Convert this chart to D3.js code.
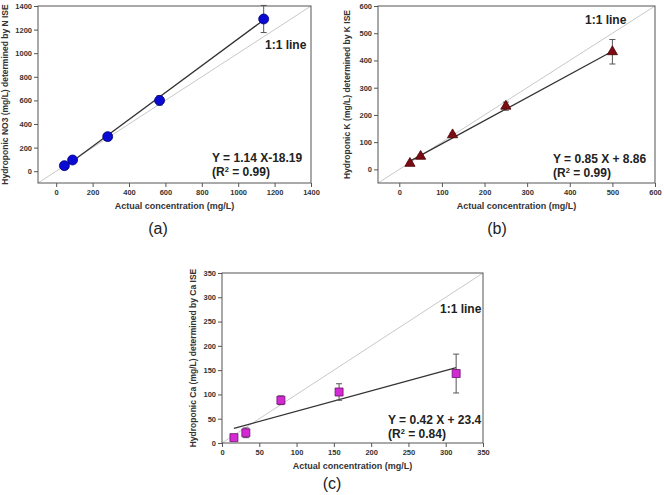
<!DOCTYPE html>
<html><head><meta charset="utf-8">
<script src="https://cdn.jsdelivr.net/npm/d3@7"></script>
<style>
body{margin:0;background:#fff;}
svg{font-family:"Liberation Sans",Arial,sans-serif;}
</style></head><body>
<svg id="c" width="664" height="495"></svg>
<script>
// Panel (a): NO3
const aX = [45, 90, 283, 568, 1140];
const aY = [47, 95, 293, 600, 1290];
const aErr = [8, 10, 12, 40, 115];
const aTicks = [0, 200, 400, 600, 800, 1000, 1200, 1400];
// Panel (b): K
const bX = [25, 50, 125, 250, 500];
const bY = [22, 48, 127, 232, 432];
const bErr = [4, 5, 6, 15, 45];
const bTicks = [0, 100, 200, 300, 400, 500, 600];
// Panel (c): Ca
const cX = [16, 32, 79, 157, 314];
const cY = [11, 21, 88, 105, 143];
const cErr = [3, 10, 9, 17, 40];
const cTicks = [0, 50, 100, 150, 200, 250, 300, 350];

const svg = d3.select("#c");

const panels = [
  {xs:aX, ys:aY, err:aErr, ticks:aTicks, dom:[-100,1400], slope:1.14, icpt:-18.19,
   box:[38,311,6,183], ylab:"Hydroponic NO3 (mg/L) determined by N ISE", ylabX:5,
   eq:"Y = 1.14 X-18.19", r2:"0.99", eqX:212, eqY:162, oneX:265, oneY:49,
   tag:"(a)", tagX:158, tagY:234, marker:"circle", size:78, fill:"#0a0ad2", stroke:"#00007a"},
  {xs:bX, ys:bY, err:bErr, ticks:bTicks, dom:[-50,600], slope:0.85, icpt:8.86,
   box:[378,655,6,183], ylab:"Hydroponic K (mg/L) determined by K ISE", ylabX:347,
   eq:"Y = 0.85 X + 8.86", r2:"0.99", eqX:553, eqY:163, oneX:585, oneY:24,
   tag:"(b)", tagX:497, tagY:234, marker:"triangle", size:45, fill:"#7a0c12", stroke:"#4a0005"},
  {xs:cX, ys:cY, err:cErr, ticks:cTicks, dom:[0,350], slope:0.42, icpt:23.4,
   box:[222,483,273,443], ylab:"Hydroponic Ca (mg/L) determined by Ca ISE", ylabX:193,
   eq:"Y = 0.42 X + 23.4", r2:"0.84", eqX:388, eqY:424, oneX:440, oneY:313,
   tag:"(c)", tagX:332, tagY:489, marker:"square", size:64, fill:"#d42ad4", stroke:"#6a106a"}
];

panels.forEach(p => {
  const [l, r, t, b] = p.box;
  const x = d3.scaleLinear().domain(p.dom).range([l, r]);
  const y = d3.scaleLinear().domain(p.dom).range([b, t]);
  const g = svg.append("g");

  // 1:1 line
  g.append("line").attr("x1", x(p.dom[0])).attr("y1", y(p.dom[0]))
    .attr("x2", x(p.dom[1])).attr("y2", y(p.dom[1]))
    .attr("stroke", "#c8c8c8").attr("stroke-width", 1);

  // regression line
  const x0 = d3.min(p.xs), x1 = d3.max(p.xs);
  g.append("line").attr("x1", x(x0)).attr("y1", y(p.slope*x0 + p.icpt))
    .attr("x2", x(x1)).attr("y2", y(p.slope*x1 + p.icpt))
    .attr("stroke", "#333").attr("stroke-width", 1.3);

  // frame
  g.append("rect").attr("x", l).attr("y", t).attr("width", r-l).attr("height", b-t)
    .attr("fill", "none").attr("stroke", "#555").attr("stroke-width", 1);

  // axes
  const fmt = d3.format("d");
  const ax = g.append("g").attr("transform", `translate(0,${b})`)
    .call(d3.axisBottom(x).tickValues(p.ticks).tickFormat(fmt).tickSize(4).tickSizeOuter(0).tickPadding(3));
  const ay = g.append("g").attr("transform", `translate(${l},0)`)
    .call(d3.axisLeft(y).tickValues(p.ticks).tickFormat(fmt).tickSize(4).tickSizeOuter(0).tickPadding(2));
  [ax, ay].forEach(a => {
    a.select(".domain").remove();
    a.selectAll(".tick line").attr("stroke", "#555");
    a.selectAll(".tick text").attr("fill", "#333").style("font-size", "7.5px").style("font-weight", "bold")
      .style("font-family", "'Liberation Sans', Arial, sans-serif");
  });

  // axis titles
  g.append("text").attr("x", (l+r)/2).attr("y", b + 26).attr("text-anchor", "middle")
    .attr("fill", "#333").style("font-size", "9px").style("font-weight", "bold")
    .text("Actual concentration (mg/L)");
  g.append("text").attr("transform", `translate(${p.ylabX},${(t+b)/2}) rotate(-90)`)
    .attr("text-anchor", "middle").attr("dy", "0.35em")
    .attr("fill", "#333").style("font-size", "8.5px").style("font-weight", "bold")
    .text(p.ylab);

  // error bars
  p.xs.forEach((xv, i) => {
    const cx = x(xv), yl = y(p.ys[i] - p.err[i]), yh = y(p.ys[i] + p.err[i]);
    g.append("line").attr("x1", cx).attr("x2", cx).attr("y1", yl).attr("y2", yh)
      .attr("stroke", "#555").attr("stroke-width", 1);
    [yl, yh].forEach(yy => g.append("line").attr("x1", cx-3).attr("x2", cx+3)
      .attr("y1", yy).attr("y2", yy).attr("stroke", "#555").attr("stroke-width", 1));
  });

  // markers
  const symType = p.marker === "circle" ? d3.symbolCircle :
                  p.marker === "triangle" ? d3.symbolTriangle : d3.symbolSquare;
  g.selectAll(".m").data(p.xs).join("path")
    .attr("transform", (d, i) => `translate(${x(d)},${y(p.ys[i])})`)
    .attr("d", d3.symbol().type(symType).size(p.size))
    .attr("fill", p.fill).attr("stroke", p.stroke).attr("stroke-width", 0.8);

  // equations
  g.append("text").attr("x", p.eqX).attr("y", p.eqY).attr("fill", "#222")
    .style("font-size", "12px").style("font-weight", "bold").text(p.eq);
  const r2 = g.append("text").attr("x", p.eqX).attr("y", p.eqY + 14).attr("fill", "#222")
    .style("font-size", "12px").style("font-weight", "bold");
  r2.append("tspan").text("(R");
  r2.append("tspan").attr("dy", -4).style("font-size", "7.5px").text("2");
  r2.append("tspan").attr("dy", 4).text(" = " + p.r2 + ")");
  g.append("text").attr("x", p.oneX).attr("y", p.oneY).attr("fill", "#222")
    .style("font-size", "12px").style("font-weight", "bold").text("1:1 line");

  // tag
  g.append("text").attr("x", p.tagX).attr("y", p.tagY).attr("text-anchor", "middle")
    .attr("fill", "#222").style("font-size", "16px").text(p.tag);
});
</script>
</body></html>
